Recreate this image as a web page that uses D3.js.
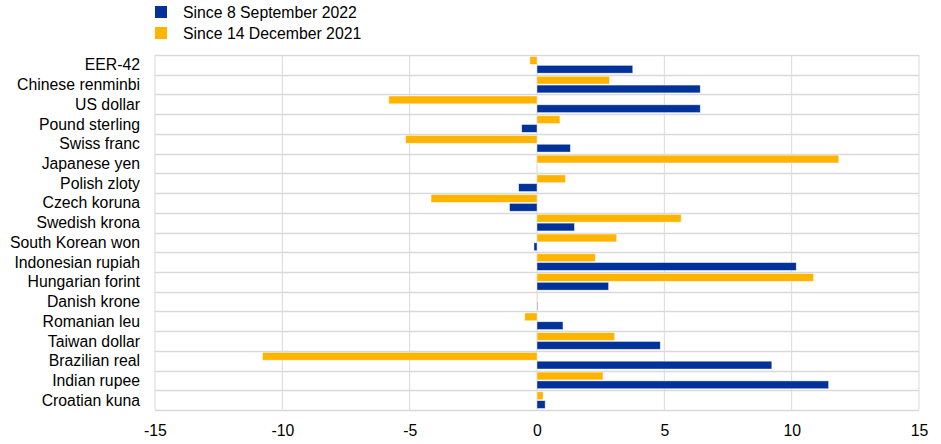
<!DOCTYPE html>
<html><head><meta charset="utf-8">
<script src="https://cdn.jsdelivr.net/npm/d3@7"></script>
<style>body{margin:0;background:#fff}svg{display:block;font-family:"Liberation Sans",Arial,sans-serif}</style>
</head><body><svg id="c" width="941" height="444"></svg>
<script>
const categories = ["EER-42","Chinese renminbi","US dollar","Pound sterling","Swiss franc","Japanese yen","Polish zloty","Czech koruna","Swedish krona","South Korean won","Indonesian rupiah","Hungarian forint","Danish krone","Romanian leu","Taiwan dollar","Brazilian real","Indian rupee","Croatian kuna"];
const sinceSep2022 = [3.76,6.41,6.41,-0.6,1.31,0,-0.72,-1.08,1.47,-0.12,10.18,2.81,0.02,1.02,4.84,9.22,11.45,0.32];
const sinceDec2021 = [-0.28,2.85,-5.82,0.9,-5.16,11.85,1.12,-4.16,5.66,3.13,2.29,10.86,0.02,-0.48,3.05,-10.78,2.59,0.24];
const seriesNames = ["Since 8 September 2022","Since 14 December 2021"];
const xTicks = [-15,-10,-5,0,5,10,15];

const svg = d3.select("#c");
const FS = 15.8;
const m = {left:155, right:919, top:55, bottom:410};
const x = d3.scaleLinear().domain([-15,15]).range([m.left,m.right]);
const y = d3.scaleBand().domain(categories).range([m.top,m.bottom]);
const sub = d3.scaleBand().domain(["dec","sep"]).range([0,y.bandwidth()]).paddingInner(0).paddingOuter(0.12);
const colors = {sep:"#003299", dec:"#FFB400"};
const grid = "#d9d9d9";

svg.append("g").selectAll("line").data(xTicks).join("line")
  .attr("x1",d=>x(d)).attr("x2",d=>x(d)).attr("y1",m.top).attr("y2",m.bottom)
  .attr("stroke",grid).attr("stroke-width",1);
const bounds = categories.map(c=>y(c)).concat([m.bottom]);
svg.append("g").selectAll("line").data(bounds).join("line")
  .attr("x1",m.left).attr("x2",m.right).attr("y1",d=>Math.round(d)+0.5).attr("y2",d=>Math.round(d)+0.5)
  .attr("stroke",grid).attr("stroke-width",1.5);

const rows = categories.map((c,i)=>({c, dec:sinceDec2021[i], sep:sinceSep2022[i]}));
["dec","sep"].forEach(k=>{
  svg.append("g").selectAll("rect").data(rows).join("rect")
    .attr("x",d=>x(Math.min(0,d[k])))
    .attr("width",d=>Math.abs(x(d[k])-x(0)))
    .attr("y",d=>y(d.c)+sub(k)+0.5)
    .attr("height",sub.bandwidth()-1)
    .attr("fill",colors[k])
    .attr("stroke","rgba(255,255,255,0.6)").attr("stroke-width",0.7);
});

svg.append("g").selectAll("text").data(categories).join("text")
  .attr("x",140).attr("y",d=>y(d)+y.bandwidth()/2).attr("dy","0.35em")
  .attr("text-anchor","end").attr("font-size",FS).attr("fill","#000").text(d=>d);

const ax = svg.append("g").attr("transform",`translate(0,${m.bottom})`)
  .call(d3.axisBottom(x).tickValues(xTicks).tickSize(0).tickPadding(15).tickFormat(d=>String(d)));
ax.select(".domain").remove();
ax.selectAll("text").attr("font-size",FS).attr("fill","#000").attr("font-family","Liberation Sans, Arial, sans-serif");

const leg = [{n:seriesNames[0],c:colors.sep},{n:seriesNames[1],c:colors.dec}];
const lg = svg.append("g").selectAll("g").data(leg).join("g")
  .attr("transform",(d,i)=>`translate(155,${6+i*21})`);
lg.append("rect").attr("width",12).attr("height",12).attr("fill",d=>d.c);
lg.append("text").attr("x",28).attr("y",6).attr("dy","0.35em").attr("font-size",FS).text(d=>d.n);
</script></body></html>
